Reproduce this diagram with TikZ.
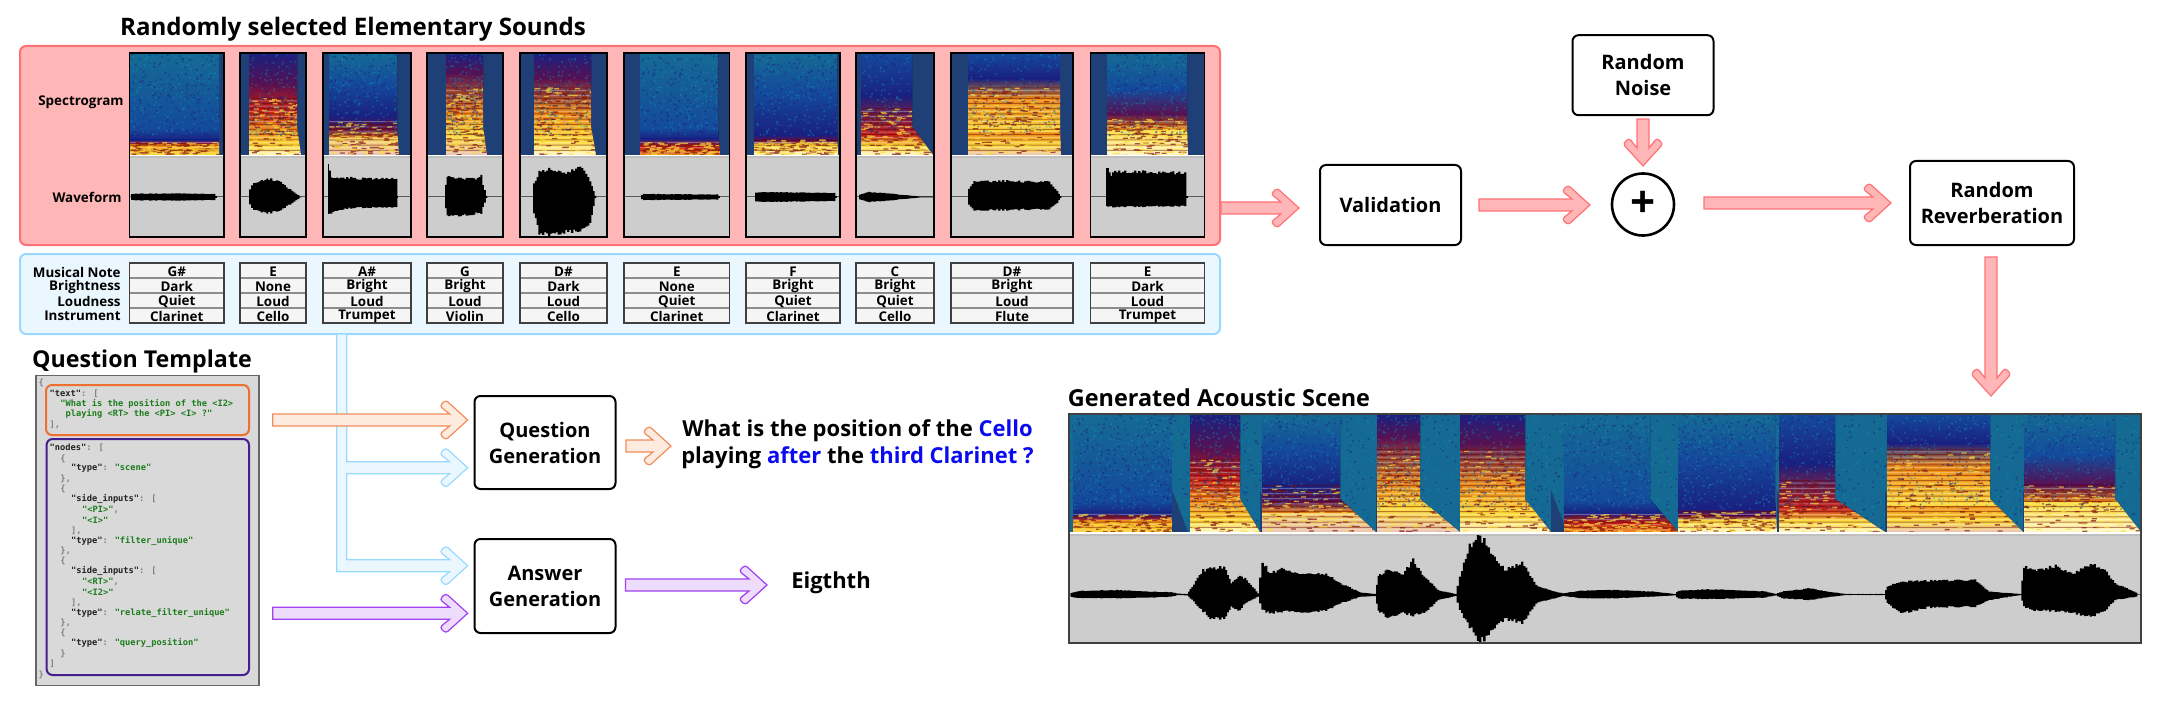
\documentclass[tikz,border=0pt]{standalone}
\usepackage{xcolor}
\usepackage{fontspec}
\setmainfont{Open Sans}
\newfontfamily\codefont{DejaVu Sans Mono}
\usetikzlibrary{positioning, calc}
\definecolor{elembg}{HTML}{ffb6b6}
\definecolor{elemborder}{HTML}{ff7276}
\definecolor{infobg}{HTML}{ebf7ff}
\definecolor{infoborder}{HTML}{99d9ff}
\definecolor{tplbg}{HTML}{d9d9d9}
\definecolor{tplborder}{HTML}{666666}
\definecolor{textborder}{HTML}{ed7031}
\definecolor{textbg}{HTML}{fdebe0}
\definecolor{nodeborder}{HTML}{43208c}
\definecolor{ansborder}{HTML}{a040f0}
\definecolor{ansbg}{HTML}{eedcfc}
\definecolor{qblue}{HTML}{0a0af0}
\definecolor{codekey}{HTML}{222222}
\definecolor{codestr}{HTML}{1c7c1c}
\definecolor{codepun}{HTML}{808080}
\definecolor{specbg}{HTML}{1f4077}
\definecolor{cteal}{HTML}{156a94}
\definecolor{cblue}{HTML}{144a9c}
\definecolor{cnavy}{HTML}{1a2080}
\definecolor{cdark}{HTML}{5a1050}
\definecolor{cred}{HTML}{c81c14}
\definecolor{corange}{HTML}{f08c14}
\definecolor{cyell}{HTML}{fcdc3c}
\definecolor{cwhite}{HTML}{fff8c8}
\definecolor{cpale}{HTML}{eac4b4}
\definecolor{wavebg}{HTML}{cdcdcd}
\definecolor{cellbg}{HTML}{f5f5f5}
\tikzstyle{proc} = [rectangle, rounded corners=3pt, draw=black, line width=1pt,
  fill=white, align=center, font=\bfseries\fontsize{10}{13}\selectfont,
  minimum width=70.5pt, minimum height=40pt, inner sep=0pt]
\tikzstyle{panel} = [rectangle, rounded corners=3pt, line width=1pt, inner sep=0pt]
\tikzstyle{heading} = [font=\bfseries\fontsize{11.7}{14}\selectfont, inner sep=0pt]
\tikzstyle{rowname} = [anchor=east, font=\bfseries\fontsize{6.7}{8}\selectfont, inner sep=0pt]
\tikzstyle{celltext} = [font=\bfseries\fontsize{6.7}{8}\selectfont, inner sep=0pt]
\tikzstyle{codeline} = [anchor=west, inner sep=0pt, font=\codefont\bfseries\fontsize{4.35}{5}\selectfont]
\tikzstyle{flowpink} = [draw=elemborder, fill=elembg, line width=0.6pt]
\tikzstyle{floworange} = [draw=textborder!80, fill=textbg, line width=0.6pt]
\tikzstyle{flowblue} = [draw=infoborder, fill=infobg, line width=0.6pt]
\tikzstyle{flowpurple} = [draw=ansborder, fill=ansbg, line width=0.6pt]
\tikzstyle{specklea} = [cteal!70!cyan, opacity=0.4]
\tikzstyle{speckleb} = [cnavy, opacity=0.5]
\newcommand{\kw}[1]{\textcolor{codekey}{#1}}
\newcommand{\stv}[1]{\textcolor{codestr}{#1}}
\newcommand{\pun}[1]{\textcolor{codepun}{#1}}
% chevron head pointing right at #1
\newcommand{\rhead}[1]{-- ($(#1)+(-18,-6)$) [rounded corners=1.5pt] -- ($(#1)+(-28,-14)$) -- ($(#1)+(-22,-20)$) [sharp corners] -- (#1) [rounded corners=1.5pt] -- ($(#1)+(-22,20)$) -- ($(#1)+(-28,14)$) [sharp corners] -- ($(#1)+(-18,6)$)}
\newcommand{\rflow}[3]{\draw[#1] ($(#2 |- #3)+(0,-6)$) \rhead{#3} -- ($(#2 |- #3)+(0,6)$) -- cycle;}
\newcommand{\dflow}[3]{\draw[#1] ($(#3 |- #2)+(-6,0)$) -- ($(#3)+(-6,-18)$) [rounded corners=1.5pt] -- ($(#3)+(-14,-28)$) -- ($(#3)+(-20,-22)$) [sharp corners] -- (#3) [rounded corners=1.5pt] -- ($(#3)+(20,-22)$) -- ($(#3)+(14,-28)$) [sharp corners] -- ($(#3)+(6,-18)$) -- ($(#3 |- #2)+(6,0)$) -- cycle;}
% colour bands of each sound, top/bottom in percent
\def\profA{0/74/cteal/cblue, 74/85/cblue/cnavy, 85/90/cnavy/cred, 90/100/corange/cyell}
\def\profB{0/30/cnavy/cdark, 30/55/cdark/cred, 55/75/cred/corange, 75/90/corange/cyell, 90/100/cyell/cwhite}
\def\profC{0/30/cteal/cblue, 30/62/cblue/cnavy, 62/74/cnavy/cdark, 74/84/cdark/corange, 84/100/cyell!60!cpale/cpale}
\def\profD{0/20/cnavy/cdark, 20/60/cdark/corange, 60/80/corange/cyell, 80/100/cyell/cpale}
\def\profE{0/25/cnavy/cdark, 25/60/cdark/corange, 60/85/corange/cyell, 85/100/cyell/cwhite}
\def\profF{0/74/cteal/cblue, 74/84/cblue/cnavy, 84/92/cnavy/cred, 92/100/cred/corange}
\def\profG{0/38/cteal/cblue, 38/80/cblue/cnavy, 80/86/cnavy/cdark, 86/90/cdark/cyell, 90/100/cyell/cwhite}
\def\profH{0/42/cblue/cnavy, 42/80/cnavy/cred, 80/90/cred/cyell, 90/100/cyell/cwhite}
\def\profI{0/25/cblue/cnavy, 25/45/cnavy/corange, 45/78/corange/cyell, 78/90/corange/cyell, 90/100/cyell/cpale}
\def\profJ{0/35/cteal/cblue, 35/60/cblue/cdark, 60/75/cdark/corange, 75/100/cyell/cwhite}
% one spectrogram: x1, x2, tail x, top, bottom, profile, stripes, speckles
\newcommand{\sndspec}[8]{
  \begin{scope}
    \pgfmathsetmacro{\sndh}{#5-#4}
    \edef\proflist{\csname prof#6\endcsname}
    \clip (#1,#4) -- (#2,#4) -- (#2,{#4+0.72*\sndh}) -- (#3,#5) -- (#1,#5) -- cycle;
    \foreach \ya/\yb/\ca/\cb in \proflist {
      \fill[top color=\ca, bottom color=\cb, draw=none] (#1,{#4+\ya*\sndh/100}) rectangle (#3,{#4+\yb*\sndh/100});
    }
    \fill[white, opacity=0.3] \foreach \s [evaluate=\s as \sy using #5-\s*2.6] in {1,3,...,#7} {(#1,\sy) rectangle (#3,\sy+1)};
    \fill[black!60!red, opacity=0.45] \foreach \s [evaluate=\s as \sy using #5-\s*2.6] in {2,4,...,#7} {(#1,\sy) rectangle (#3,\sy+1)};
    \fill[black!35!cred, opacity=0.7] \foreach \k [evaluate=\k as \nx using #1+rnd*(#3-#1), evaluate=\k as \ny using #5-rnd*#7*2.6] in {1,...,80} {(\nx,\ny) rectangle +(5,1.3)};
    \fill[cyell, opacity=0.7] \foreach \k [evaluate=\k as \nx using #1+rnd*(#3-#1), evaluate=\k as \ny using #5-rnd*#7*2.6] in {1,...,80} {(\nx,\ny) rectangle +(5,1.3)};
    \fill[specklea] \foreach \k [evaluate=\k as \nx using #1+rnd*(#3-#1), evaluate=\k as \ny using #4+rnd*\sndh*0.8] in {1,...,#8} {(\nx,\ny) rectangle +(1.6,1.6)};
    \fill[speckleb] \foreach \k [evaluate=\k as \nx using #1+rnd*(#3-#1), evaluate=\k as \ny using #4+rnd*\sndh*0.8] in {1,...,#8} {(\nx,\ny) rectangle +(1.6,1.6)};
  \end{scope}
}
% one waveform: centre line y, then x/up/down
\newcommand{\sndwave}[2]{
  \foreach \wx/\wu/\wb [count=\wi, remember=\wx as \wxp, remember=\wu as \wup, remember=\wb as \wbp] in {#2} {
    \ifnum\wi>1
      \pgfmathsetmacro{\wn}{int(max(1,round((\wx-\wxp)/2)))}
      \fill[black] \foreach \wj [evaluate=\wj as \wt using \wj/\wn,
          evaluate=\wj as \wy using \wup+(\wu-\wup)*\wt,
          evaluate=\wj as \wz using \wbp+(\wb-\wbp)*\wt,
          evaluate=\wj as \wja using 0.92+0.14*rnd] in {1,...,\wn}
        {({\wxp+(\wx-\wxp)*(\wj-1)/\wn},{#1-\wy*\wja}) rectangle ({\wxp+(\wx-\wxp)*\wt+0.3},{#1+\wz*\wja})};
    \fi
  }
}
\begin{document}
\begin{tikzpicture}[x=0.5pt, y=-0.5pt]
  \useasboundingbox (0,0) rectangle (2160,701);
  \pgfmathsetseed{42}

  % Elementary sounds
  \node[heading, font=\bfseries\fontsize{12.05}{14}\selectfont] (title) at (353,29) {Randomly selected Elementary Sounds};
  \node[panel, fill=elembg, draw=elemborder, minimum width=600pt, minimum height=99.5pt] (elem) at (620,145.5) {};
  \node[panel, fill=infobg, draw=infoborder, minimum width=600pt, minimum height=40pt] (info) at (620,294) {};

  \node[rowname] (lspec) at (124,102) {Spectrogram};
  \node[rowname] (lwave) at (122,197) {Waveform};

  \foreach \xa/\xb/\xc/\xd/\xt/\prof/\st in {
    129.5/224/130/219/219/A/5, 240/306/249/297/301/B/22, 323/411/329/397/399/C/13,
    427/503/446/483/487/D/26, 520/607/534/591/596/E/26, 624/729.5/640/718/720/F/5,
    746/840/754/837/838/G/6, 856/934/861/912/933/H/18, 951/1073/968/1060/1061/I/26,
    1090.5/1204.5/1107/1187/1188/J/14} {
    \fill[specbg] (\xa,53) rectangle (\xb,155);
    \sndspec{\xc}{\xd}{\xt}{53}{155}{\prof}{\st}{160}
    \fill[wavebg] (\xa,155) rectangle (\xb,237);
    \fill[white] (\xa,155) rectangle (\xb,156);
    \fill[black!25] (\xa,156) rectangle (\xb,158.5);
    \draw[black!65, line width=0.5pt] (\xa,197) -- (\xb,197);
    \draw[black, line width=0.8pt] (\xa,53) rectangle (\xb,237);
  }

  \sndwave{197}{131/2/2, 133/3.3/3.3, 175/3.5/3.5, 215/3/3, 217/1/1}
  \sndwave{197}{249/5/5, 255/14/13, 270/18/16, 280/16/14, 293/6/6, 301/.5/.5}
  \sndwave{197}{328/2/2, 329/34/17, 332/20/17, 336/19/14, 350/19/11, 397/18/10, 398/1/1}
  \sndwave{197}{445/5/5, 448/20/18, 460/19/19, 475/18/17, 482/21/16, 484/12/10, 487/1/1}
  \sndwave{197}{533/10/10, 540/25/36, 552/28/38, 565/24/36, 583/31/34, 591/15/25, 596/1/1}
  \sndwave{197}{641/1/1, 645/3/3, 718/2.5/2.5, 720/.5/.5}
  \sndwave{197}{755/4/4, 760/5/5, 835/4/4, 837/1/1}
  \sndwave{197}{859/2/2, 870/5/5, 885/4/4, 905/2/2, 921/.5/.5, 934/.3/.3}
  \sndwave{197}{968/6/6, 975/15/13, 1000/16/13, 1050/15/12, 1058/6/6, 1061/1/1}
  \sndwave{197}{1106/3/3, 1107/30/9, 1112/23/10, 1118/26/10, 1186/24/9, 1188/1/1}

  % Attribute tables
  \node[rowname] (lnote) at (121,272) {Musical Note};
  \node[rowname] (lbright) at (121,287) {Brightness};
  \node[rowname] (lloud) at (121,301) {Loudness};
  \node[rowname] (linstr) at (121,316) {Instrument};

  \foreach \xa/\xb/\ra/\rb/\rc/\rd [count=\ci] in {
    129.5/224/G\#/Dark/Quiet/Clarinet, 240/306/E/None/Loud/Cello, 323/411/A\#/Bright/Loud/Trumpet,
    427/503/G/Bright/Loud/Violin, 520/607/D\#/Dark/Loud/Cello, 624/729.5/E/None/Quiet/Clarinet,
    746/840/F/Bright/Quiet/Clarinet, 856/934/C/Bright/Quiet/Cello, 951/1073/D\#/Bright/Loud/Flute,
    1090.5/1204.5/E/Dark/Loud/Trumpet} {
    \fill[cellbg] (\xa,263) rectangle (\xb,323);
    \foreach \ly in {278,293,308} {
      \draw[black!45, line width=0.7pt] (\xa,\ly) -- (\xb,\ly);
    }
    \draw[black!75, line width=0.7pt] (\xa,263) rectangle (\xb,323);
    \node[celltext] (note\ci) at ({(\xa+\xb)/2},271.5) {\ra};
    \node[celltext] (bright\ci) at ({(\xa+\xb)/2},286.5) {\rb};
    \node[celltext] (loud\ci) at ({(\xa+\xb)/2},301.5) {\rc};
    \node[celltext] (instr\ci) at ({(\xa+\xb)/2},316) {\rd};
  }

  % Question template
  \node[heading, font=\bfseries\fontsize{11.6}{14}\selectfont] (tpltitle) at (142,361) {Question Template};
  \node[rectangle, fill=tplbg, draw=tplborder, line width=0.7pt, minimum width=111.5pt, minimum height=155pt, inner sep=0pt] (tpl) at (147.5,530.7) {};
  \node[panel, draw=textborder, minimum width=101.5pt, minimum height=25pt] (tpltext) at (147.5,410) {};
  \node[panel, draw=nodeborder, minimum width=101.2pt, minimum height=118pt] (tplnodes) at (147.8,557) {};

  \foreach \cx/\cy/\ctxt [count=\li] in {
    38.3/383.3/{\pun{\{}},
    49.3/394/{\kw{"text"}\pun{: [}},
    60/404.3/{\stv{"What is the position of the <I2>}},
    65.3/414.3/{\stv{playing <RT> the <PI> <I> ?"}},
    49.3/425.3/{\pun{],}},
    49.3/448/{\kw{"nodes"}\pun{: [}},
    60/458.7/{\pun{\{}},
    70.7/468.7/{\kw{"type"}\pun{: }\stv{"scene"}},
    60/479.3/{\pun{\},}},
    60/489.3/{\pun{\{}},
    70.7/499.3/{\kw{"side\_inputs"}\pun{: [}},
    81.7/510/{\stv{"<PI>"}\pun{,}},
    81.7/520/{\stv{"<I>"}},
    70.7/530.7/{\pun{],}},
    70.7/540.7/{\kw{"type"}\pun{: }\stv{"filter\_unique"}},
    60/551.3/{\pun{\},}},
    60/561.3/{\pun{\{}},
    70.7/571.3/{\kw{"side\_inputs"}\pun{: [}},
    81.7/581.7/{\stv{"<RT>"}\pun{,}},
    81.7/592/{\stv{"<I2>"}},
    70.7/602.7/{\pun{],}},
    70.7/612.7/{\kw{"type"}\pun{: }\stv{"relate\_filter\_unique"}},
    60/623.3/{\pun{\},}},
    60/633.3/{\pun{\{}},
    70.7/643.3/{\kw{"type"}\pun{: }\stv{"query\_position"}},
    60/654/{\pun{\}}},
    49.3/664/{\pun{]}},
    38.3/674.7/{\pun{\}}}} {
    \node[codeline] (code\li) at (\cx,\cy) {\ctxt};
  }

  % Processing steps
  \node[proc] (valid) at (1390.5,205) {Validation};
  \node[circle, draw=black, line width=1.3pt, minimum size=31pt, inner sep=0pt, font=\bfseries\fontsize{22}{22}\selectfont] (plus) at (1643,204.5) {+};
  \node[proc, above=28pt of plus] (noise) {Random\\Noise};
  \node[proc, minimum width=82pt, minimum height=42pt] (reverb) at (1992,203) {Random\\Reverberation};
  \node[proc, minimum height=46.5pt] (qgen) at (545,442.5) {Question\\Generation};
  \node[proc, below=24pt of qgen, minimum height=47pt] (agen) {Answer\\Generation};

  \node[font=\bfseries\fontsize{11}{13.6}\selectfont, align=center, inner sep=0pt] (question) at (857.5,444)
    {What is the position of the \textcolor{qblue}{Cello}\\playing \textcolor{qblue}{after} the \textcolor{qblue}{third Clarinet ?}};
  \node[font=\bfseries\fontsize{11}{13.5}\selectfont, inner sep=0pt] (answer) at (831,583) {Eigthth};

  % Generated scene
  \node[heading] (scenetitle) at (1219,398) {Generated Acoustic Scene};
  \fill[cteal] (1069,414) rectangle (2141,532);
  \foreach \chunk in {1,...,8} {
    \fill[specklea] \foreach \k [evaluate=\k as \nx using 1069+rnd*1070, evaluate=\k as \ny using 414+rnd*116] in {1,...,150} {(\nx,\ny) rectangle +(1.6,1.6)};
    \fill[speckleb] \foreach \k [evaluate=\k as \nx using 1069+rnd*1070, evaluate=\k as \ny using 414+rnd*116] in {1,...,150} {(\nx,\ny) rectangle +(1.6,1.6)};
  }
  \foreach \xc/\xd/\xt/\prof/\st in {
    1073/1172/1172/A/7, 1190/1240/1260/B/28, 1262/1340/1376/C/18, 1377/1420/1460/D/32, 1460/1525/1551/E/32,
    1564/1650/1678/F/7, 1678/1775/1777/G/8, 1779/1835/1885/H/20, 1887/1990/2023/I/32, 2024/2115/2141/J/18} {
    \fill[specbg] (\xt,490) -- ({min(\xt+16,2141)},532) -- (\xt,532) -- cycle;
    \sndspec{\xc}{\xd}{\xt}{414}{532}{\prof}{\st}{250}
  }
  \fill[white] (1069,532) rectangle (2141,533.5);
  \fill[wavebg] (1069,533.5) rectangle (2141,643);
  \fill[black!25] (1069,533.5) rectangle (2141,535.5);
  \draw[black!65, line width=0.5pt] (1069,594.3) -- (2141,594.3);
  \sndwave{594.3}{1070.5/1/2.3, 1081/3.3/3.7, 1116/4.3/4, 1151/2.7/3.3, 1172/2/2.3, 1179/.7/.7, 1188/.3/1,
    1193/7.7/5.7, 1204/24/17, 1211/26/24, 1225/27/24, 1232/11/12, 1239/18/17, 1246/16/9, 1259/1/2.3,
    1263.5/33/16, 1270.5/21/19, 1284.5/26/17, 1302/21/19, 1327/20/16, 1341/11/9, 1362/1.7/2.3, 1376/.3/1.7,
    1379/18/16, 1390/25/24, 1404/21/19, 1414/34/21, 1425/18/19, 1439/4/5.7, 1456.5/.3/1.7,
    1461/18/16, 1470.5/48/32, 1481/59/48, 1491.6/44/39, 1505.6/24/24, 1523/32/29, 1537/9/9, 1555/2.7/4,
    1564/1/1.7, 1583/3.7/4, 1614.5/4.3/4, 1653/2.7/2.3, 1676/.3/1,
    1679/3.7/4.3, 1712.6/5/4.7, 1765/3/3.3, 1777/.3/1, 1783/2.7/4, 1811/6/5.7, 1828/2.7/3, 1847.4/.3/.7, 1885/.3/.7,
    1888/8/9, 1902/12.7/19, 1930/13.7/13, 1976/14.3/12.3, 1990/2.7/5.7, 2021.4/.3/.7,
    2025/27.7/12.3, 2035.5/24/16, 2056.5/28.7/17, 2074/21/19, 2091.6/30/22.3, 2105.6/25/17, 2116/11/5.7, 2137/1.7/2.3}
  \draw[black!75, line width=0.7pt] (1069,414) rectangle (2141,643);

  % Pink flow
  \coordinate (validin) at (1299,208);
  \coordinate (plusin) at (1590,205);
  \coordinate (reverbin) at (1891,203);
  \coordinate (plustop) at (1643,166);
  \coordinate (noiseout) at (1643,119);
  \coordinate (reverbout) at (1991,257);
  \coordinate (scenein) at (1991,396);
  \coordinate (validout) at (1479,205);
  \coordinate (plusout) at (1704,203);
  \rflow{flowpink}{elem.east}{validin}
  \rflow{flowpink}{validout}{plusin}
  \rflow{flowpink}{plusout}{reverbin}
  \dflow{flowpink}{noiseout}{plustop}
  \dflow{flowpink}{reverbout}{scenein}

  % Attribute feed
  \coordinate (bus) at (341.7,334);
  \coordinate (qinfo) at (467.7,467.7);
  \coordinate (ainfo) at (467.7,565.7);
  \draw[flowblue] ($(bus)+(5,0)$) -- ($(bus |- qinfo)+(5,-6)$) \rhead{qinfo} -- ($(bus |- qinfo)+(5,6)$)
    -- ($(bus |- ainfo)+(5,-6)$) \rhead{ainfo} -- ($(bus |- ainfo)+(-5,6)$) -- ($(bus)+(-5,0)$) -- cycle;

  % Template feed
  \coordinate (tplout) at (272.7,420);
  \coordinate (qtext) at (467.7,420);
  \coordinate (nodesout) at (272.7,613.3);
  \coordinate (anodes) at (467.7,613.3);
  \coordinate (qgenout) at (626,446);
  \coordinate (qend) at (671,446);
  \coordinate (agenout) at (625.5,585);
  \coordinate (aend) at (767,585);
  \rflow{floworange}{tplout}{qtext}
  \rflow{flowpurple}{nodesout}{anodes}
  \rflow{floworange}{qgenout}{qend}
  \rflow{flowpurple}{agenout}{aend}

\end{tikzpicture}
\end{document}
